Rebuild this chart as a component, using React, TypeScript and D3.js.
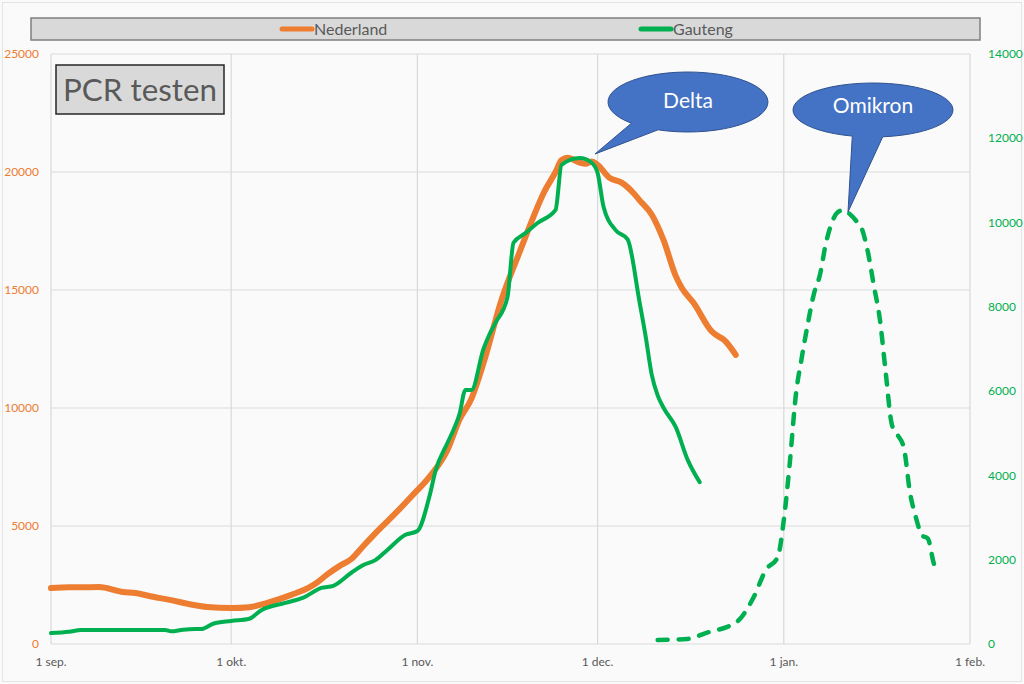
import React from "react";
import * as d3 from "d3";

// ---- Data ----
const nlDates = ["2021-09-01","2021-09-04","2021-09-09","2021-09-13","2021-09-15","2021-09-18","2021-09-21","2021-09-24","2021-09-27","2021-10-01","2021-10-04","2021-10-07","2021-10-11","2021-10-14","2021-10-15","2021-10-17","2021-10-19","2021-10-21","2021-10-23","2021-10-26","2021-10-28","2021-10-31","2021-11-03","2021-11-06","2021-11-08","2021-11-10","2021-11-12","2021-11-15","2021-11-18","2021-11-20","2021-11-22","2021-11-24","2021-11-25","2021-11-26","2021-11-28","2021-11-29","2021-11-30","2021-12-01","2021-12-03","2021-12-05","2021-12-07","2021-12-08","2021-12-10","2021-12-12","2021-12-14","2021-12-15","2021-12-17","2021-12-20","2021-12-21","2021-12-22","2021-12-24"];
const nlValues = [2370,2400,2410,2200,2160,2000,1860,1690,1570,1525,1560,1740,2080,2400,2550,2950,3300,3600,4150,4950,5450,6250,7080,8220,9500,10400,11900,14580,16600,17900,19100,20000,20500,20600,20400,20350,20450,20300,19750,19550,19100,18800,18200,17100,15600,15100,14450,13250,13050,12900,12250];

const gtDates = ["2021-09-01","2021-09-04","2021-09-06","2021-09-20","2021-09-21","2021-09-23","2021-09-25","2021-09-26","2021-09-28","2021-10-01","2021-10-04","2021-10-06","2021-10-10","2021-10-13","2021-10-16","2021-10-18","2021-10-21","2021-10-23","2021-10-25","2021-10-27","2021-10-30","2021-11-01","2021-11-03","2021-11-04","2021-11-06","2021-11-07","2021-11-08","2021-11-09","2021-11-10","2021-11-12","2021-11-13","2021-11-14","2021-11-16","2021-11-17","2021-11-19","2021-11-21","2021-11-24","2021-11-25","2021-11-28","2021-11-30","2021-12-01","2021-12-02","2021-12-04","2021-12-06","2021-12-08","2021-12-09","2021-12-10","2021-12-11","2021-12-12","2021-12-14","2021-12-16","2021-12-18"];
const gtValues = [260,290,332,332,300,340,356,356,480,546,600,800,975,1100,1330,1380,1690,1875,1990,2230,2590,2680,3500,4100,4770,5080,5450,6030,6030,7000,7350,7620,8235,9520,9750,9990,10300,11370,11530,11420,11180,10370,9820,9600,8100,7300,6400,5900,5600,5150,4370,3840];

const omDates = ["2021-12-11","2021-12-16","2021-12-19","2021-12-23","2021-12-24","2021-12-27","2021-12-29","2021-12-31","2022-01-01","2022-01-02","2022-01-03","2022-01-04","2022-01-05","2022-01-06","2022-01-07","2022-01-08","2022-01-09","2022-01-10","2022-01-11","2022-01-12","2022-01-13","2022-01-14","2022-01-15","2022-01-16","2022-01-17","2022-01-18","2022-01-19","2022-01-20","2022-01-21","2022-01-22","2022-01-23","2022-01-24","2022-01-25","2022-01-26","2022-01-27"];
const omValues = [95,120,260,430,500,1115,1755,2065,2940,4300,5900,6800,7600,8300,8750,9500,10000,10250,10300,10200,10050,9850,9300,8500,7700,6400,5200,4950,4650,3600,3000,2580,2500,1900,1700];

const xTickDates = ["2021-09-01","2021-10-01","2021-11-01","2021-12-01","2022-01-01","2022-02-01"];
const xTickLabels = ["1 sep.","1 okt.","1 nov.","1 dec.","1 jan.","1 feb."];
const leftTicks = [0,5000,10000,15000,20000,25000];
const rightTicks = [0,2000,4000,6000,8000,10000,12000,14000];
const seriesNames = ["Nederland","Gauteng"];
const titleText = "PCR testen";
const calloutLabels = ["Delta","Omikron"];

// ---- Layout ----
const W = 1024, H = 684;
const M = { left: 51, right: 970, top: 54, bottom: 644 };
const ORANGE = "#ED7D31";
const GREEN = "#00B050";
const FONT = "Lato, 'Open Sans', sans-serif";

const parse = d3.utcParse("%Y-%m-%d");

export default function App() {
  const x = d3.scaleUtc()
    .domain([parse("2021-09-01")!, parse("2022-02-01")!])
    .range([M.left, M.right]);
  const yL = d3.scaleLinear().domain([0, 25000]).range([M.bottom, M.top]);
  const yR = d3.scaleLinear().domain([0, 14000]).range([M.bottom, M.top]);

  const mk = (dates: string[], vals: number[]) => dates.map((d, i) => ({ d: parse(d)!, v: vals[i] }));
  const nl = mk(nlDates, nlValues);
  const gt = mk(gtDates, gtValues);
  const om = mk(omDates, omValues);

  const lineL = d3.line<{ d: Date; v: number }>().x(p => x(p.d)).y(p => yL(p.v)).curve(d3.curveMonotoneX);
  const lineR = d3.line<{ d: Date; v: number }>().x(p => x(p.d)).y(p => yR(p.v)).curve(d3.curveMonotoneX);

  const callouts = [
    { label: calloutLabels[0], cx: 688, cy: 102, rx: 80, ry: 30, a1: 112, a2: 135, tx: 595, ty: 154, ly: 101 },
    { label: calloutLabels[1], cx: 873, cy: 110, rx: 80, ry: 27, a1: 83, a2: 105, tx: 848, ty: 212, ly: 106 },
  ];
  const calloutPath = (c: typeof callouts[0]) => {
    const p = (a: number) => [c.cx + c.rx * Math.cos((a * Math.PI) / 180), c.cy + c.ry * Math.sin((a * Math.PI) / 180)];
    const [x1, y1] = p(c.a1);
    const [x2, y2] = p(c.a2);
    return `M${x1},${y1} A${c.rx},${c.ry} 0 1 0 ${x2},${y2} L${c.tx},${c.ty} Z`;
  };

  return (
    <div style={{ position: "fixed", left: 0, top: 0 }}>
      <svg width={W} height={H} style={{ display: "block" }} fontFamily={FONT}>
        <rect x={0} y={0} width={W} height={H} fill="#fafafa" />
        <rect x={2.5} y={2.5} width={W - 5} height={H - 5} fill="none" stroke="#e4e4e4" />

        {/* gridlines */}
        {leftTicks.map(t => (
          <line key={"h" + t} x1={M.left} x2={M.right} y1={yL(t)} y2={yL(t)} stroke="#d9d9d9" strokeWidth={1.2} />
        ))}
        {xTickDates.map(t => (
          <line key={"v" + t} x1={x(parse(t)!)} x2={x(parse(t)!)} y1={M.top} y2={M.bottom} stroke="#d9d9d9" strokeWidth={1.2} />
        ))}

        {/* axis labels */}
        {leftTicks.map(t => (
          <text key={"l" + t} x={39} y={yL(t)} dy="0.35em" textAnchor="end" fontSize={12} fill={ORANGE}>{t}</text>
        ))}
        {rightTicks.map(t => (
          <text key={"r" + t} x={988} y={yR(t)} dy="0.35em" textAnchor="start" fontSize={12} fill={GREEN}>{t}</text>
        ))}
        {xTickDates.map((t, i) => (
          <text key={"x" + t} x={x(parse(t)!)} y={662} dy="0.35em" textAnchor="middle" fontSize={12} fill="#595959">{xTickLabels[i]}</text>
        ))}

        {/* series */}
        <path d={lineL(nl)!} fill="none" stroke={ORANGE} strokeWidth={6} strokeLinejoin="round" strokeLinecap="round" />
        <path d={lineR(gt)!} fill="none" stroke={GREEN} strokeWidth={4} strokeLinejoin="round" strokeLinecap="round" />
        <path d={lineR(om)!} fill="none" stroke={GREEN} strokeWidth={4.5} strokeDasharray="10 11" strokeLinejoin="round" strokeLinecap="round" />

        {/* legend */}
        <rect x={31} y={18} width={949} height={22} fill="#d9d9d9" stroke="#7f7f7f" strokeWidth={1.5} />
        <line x1={282} x2={312} y1={29} y2={29} stroke={ORANGE} strokeWidth={5} strokeLinecap="round" />
        <text x={314} y={29} dy="0.35em" fontSize={16} fill="#595959">{seriesNames[0]}</text>
        <line x1={641} x2={671} y1={29} y2={29} stroke={GREEN} strokeWidth={5} strokeLinecap="round" />
        <text x={673} y={29} dy="0.35em" fontSize={16} fill="#595959">{seriesNames[1]}</text>

        {/* title box */}
        <rect x={56} y={65} width={168} height={49} fill="#d9d9d9" stroke="#262626" strokeWidth={1.5} />
        <text x={140} y={90} dy="0.35em" textAnchor="middle" fontSize={31} fill="#595959" textLength={154} lengthAdjust="spacingAndGlyphs">{titleText}</text>

        {/* callouts */}
        {callouts.map(c => (
          <g key={c.label}>
            <path d={calloutPath(c)} fill="#4472C4" stroke="#2F528F" strokeWidth={1} />
            <text x={c.cx} y={c.ly} dy="0.35em" textAnchor="middle" fontSize={21} fill="#ffffff">{c.label}</text>
          </g>
        ))}
      </svg>
    </div>
  );
}
